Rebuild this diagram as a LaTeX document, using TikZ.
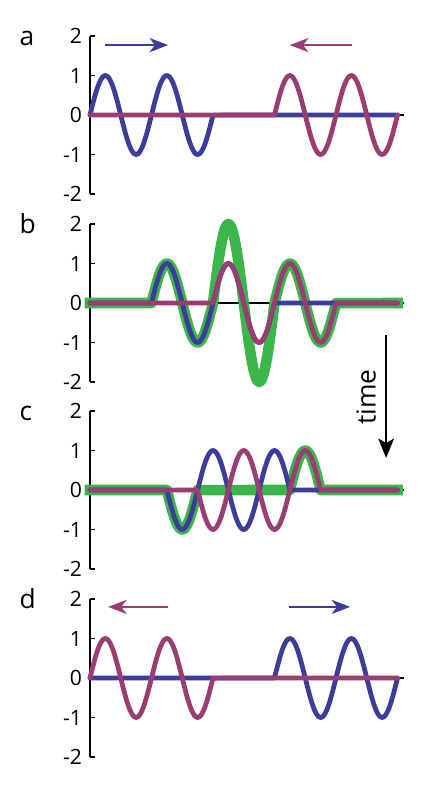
\documentclass[tikz,border=0pt]{standalone}
\usepackage{fontspec}
\setmainfont{Open Sans}
\usetikzlibrary{arrows.meta}
\definecolor{wblue}{RGB}{60,60,153}
\definecolor{wpink}{RGB}{153,61,115}
\definecolor{wgreen}{RGB}{60,181,74}

\begin{document}
\begin{tikzpicture}[x=0.615cm,y=0.79cm,
  axisline/.style={line width=0.9pt},
  bluewave/.style={wblue,line width=2.7pt,line cap=round,line join=round},
  pinkwave/.style={wpink,line width=2.7pt,line cap=round,line join=round},
  sumwave/.style={wgreen,line width=6pt,line cap=rect,line join=round},
  ticklabel/.style={anchor=east,inner sep=0pt,font=\fontsize{12}{14}\selectfont},
  panellabel/.style={anchor=base west,inner sep=0pt,font=\fontsize{15}{17}\selectfont},
  motion/.style={line width=1.2pt,-{Stealth[length=10.5pt,width=8pt,inset=3pt]}}]
\useasboundingbox (-1.8cm,2.3cm) rectangle (7.06cm,-13.42cm);
% axes of the four panels
\foreach \p/\s in {a/0,b/-3.76,c/-7.5,d/-11.26}{
  \begin{scope}[yshift=\s cm]
    \draw[axisline] (0,2) -- (0,-2);
    \draw[axisline] (0,0) -- (10.2,0);
    \foreach \v/\n in {2/2,1/1,0/0,-1/m1,-2/m2}{
      \draw[axisline] (0,\v) -- (0.17,\v);
      \node[ticklabel] (tick\p\n) at (-0.25,\v) {\v};
    }
    \node[panellabel] (label\p) at (-2.3,1.75) {\p};
  \end{scope}
}
% a: two pulses heading for each other
\begin{scope}
\draw[bluewave] plot[domain=0:4,samples=81,smooth] (\x,{sin(180*\x)}) -- (10,0);
\draw[pinkwave] (0,0) -- (6,0) -- plot[domain=6:10,samples=81,smooth] (\x,{sin(180*(\x-6))});
\coordinate (ra1) at (0.49,1.77);
\coordinate (ra2) at (2.54,1.77);
\coordinate (la1) at (8.52,1.77);
\coordinate (la2) at (6.50,1.77);
\draw[motion,wblue] (ra1) -- (ra2);
\draw[motion,wpink] (la1) -- (la2);
\end{scope}
% b: overlap in phase
\begin{scope}[yshift=-3.76cm]
\draw[sumwave] (0,0) -- (2,0)
  -- plot[domain=2:4,samples=41,smooth] (\x,{sin(180*\x)})
  -- plot[domain=4:6,samples=41,smooth] (\x,{2*sin(180*\x)})
  -- plot[domain=6:8,samples=41,smooth] (\x,{sin(180*\x)}) -- (10,0);
\draw[bluewave] (0,0) -- (2,0) -- plot[domain=2:6,samples=81,smooth] (\x,{sin(180*\x)}) -- (10,0);
\draw[pinkwave] (0,0) -- (4,0) -- plot[domain=4:8,samples=81,smooth] (\x,{sin(180*\x)}) -- (10,0);
\end{scope}
% c: overlap out of phase
\begin{scope}[yshift=-7.5cm]
\draw[sumwave] (0,0) -- (2.5,0)
  -- plot[domain=2.5:3.5,samples=21,smooth] (\x,{cos(180*\x)}) -- (6.5,0)
  -- plot[domain=6.5:7.5,samples=21,smooth] (\x,{-cos(180*\x)}) -- (10,0);
\draw[bluewave] (0,0) -- (2.5,0) -- plot[domain=2.5:6.5,samples=81,smooth] (\x,{cos(180*\x)}) -- (10,0);
\draw[pinkwave] (0,0) -- (3.5,0) -- plot[domain=3.5:7.5,samples=81,smooth] (\x,{-cos(180*\x)}) -- (10,0);
\end{scope}
% d: pulses moving apart
\begin{scope}[yshift=-11.26cm]
\draw[bluewave] (0,0) -- (6,0) -- plot[domain=6:10,samples=81,smooth] (\x,{sin(180*(\x-6))});
\draw[pinkwave] plot[domain=0:4,samples=81,smooth] (\x,{sin(180*\x)}) -- (10,0);
\coordinate (ld1) at (2.54,1.8);
\coordinate (ld2) at (0.59,1.8);
\coordinate (rd1) at (6.47,1.8);
\coordinate (rd2) at (8.46,1.8);
\draw[motion,wpink] (ld1) -- (ld2);
\draw[motion,wblue] (rd1) -- (rd2);
\end{scope}
% time arrow
\coordinate (tstart) at (9.63,-5.57);
\coordinate (tend) at (9.63,-8.68);
\draw[line width=0.9pt,-{Stealth[length=11pt,width=9pt,inset=2.5pt]}] (tstart) -- (tend);
\node[rotate=90,inner sep=0pt,font=\fontsize{15}{17}\selectfont] (time) at (8.98,-7.14) {time};
\end{tikzpicture}
\end{document}
